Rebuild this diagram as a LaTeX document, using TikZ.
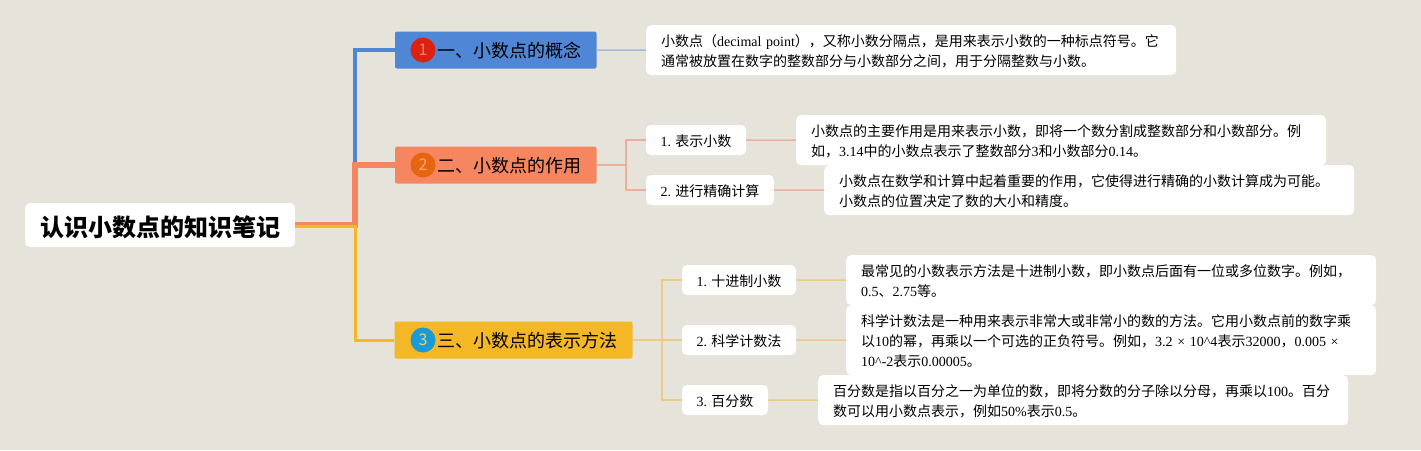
\documentclass[tikz,border=0pt]{standalone}
\usepackage{fontspec}
\setmainfont{Noto Sans CJK SC}
\newfontfamily\latinfont{Liberation Serif}
\newcommand{\lat}[1]{{\latinfont #1}}
\definecolor{paper}{HTML}{E6E3DA}
\definecolor{bluetopic}{HTML}{4F86D6}
\definecolor{orangetopic}{HTML}{F5865F}
\definecolor{yellowtopic}{HTML}{F4B725}
\definecolor{bluethin}{HTML}{A3BBDB}
\definecolor{orangethin}{HTML}{EBB09A}
\definecolor{yellowthin}{HTML}{EBCB85}
\definecolor{reddot}{HTML}{DD2010}
\definecolor{orangedot}{HTML}{E8650F}
\definecolor{bluedot}{HTML}{1C9AD6}
\tikzset{
  rootbox/.style={fill=white,rounded corners=5pt,minimum width=270pt,minimum height=44pt,inner sep=0pt,text height=24pt,text depth=1.8pt,font=\fontsize{24}{28}\selectfont\bfseries},
  topicbox/.style={rounded corners=2pt,minimum height=37pt,inner sep=0pt,text height=17pt,text depth=1.3pt,font=\fontsize{18}{22}\selectfont},
  markerdot/.style={circle,minimum size=25pt,inner sep=0pt,font=\fontsize{16}{18}\selectfont},
  itembox/.style={fill=white,rounded corners=5pt,minimum height=30pt,inner sep=0pt,text height=13.3pt,text depth=0.7pt,font=\fontsize{14}{20}\selectfont},
  notebox/.style={fill=white,rounded corners=5pt,anchor=north west,text width=500pt,inner xsep=15pt,inner ysep=0pt,align=left,text height=14.5pt,font=\fontsize{14}{20}\selectfont},
  thinline/.style={line width=1.5pt,line join=round}
}
\begin{document}
\begin{tikzpicture}[x=1pt,y=-1pt]
\fill[paper] (0,0) rectangle (1421,450);

\coordinate (trunk) at (355,225);
\coordinate (fork2) at (626,165);
\coordinate (fork3) at (662,340);

\node[rootbox] (root) at (160,225) {认识小数点的知识笔记};

\node[topicbox,fill=bluetopic,minimum width=201.5pt] (topic1) at (495.75,50) {\hspace*{27pt}一、小数点的概念};
\node[topicbox,fill=orangetopic,minimum width=201.5pt] (topic2) at (495.75,165) {\hspace*{27pt}二、小数点的作用};
\node[topicbox,fill=yellowtopic,minimum width=238pt] (topic3) at (513.5,340) {\hspace*{27pt}三、小数点的表示方法};

\node[markerdot,fill=reddot,text=reddot!55!white] (mark1) at (423,50) {1};
\node[markerdot,fill=orangedot,text=orangedot!55!white] (mark2) at (423,165) {2};
\node[markerdot,fill=bluedot,text=yellowtopic!70!white] (mark3) at (423,340) {3};

\node[itembox,minimum width=100pt] (item21) at (696,140) {\lat{1.} 表示小数};
\node[itembox,minimum width=128pt] (item22) at (710,190) {\lat{2.} 进行精确计算};
\node[itembox,minimum width=114pt] (item31) at (739,280) {\lat{1.} 十进制小数};
\node[itembox,minimum width=114pt] (item32) at (739,340) {\lat{2.} 科学计数法};
\node[itembox,minimum width=86pt] (item33) at (725,400) {\lat{3.} 百分数};

\node[notebox,minimum height=50pt] (note1) at (646,25) {小数点（\lat{decimal point}），又称小数分隔点，是用来表示小数的一种标点符号。它\\通常被放置在数字的整数部分与小数部分之间，用于分隔整数与小数。};
\node[notebox,minimum height=50pt] (note21) at (796,115) {小数点的主要作用是用来表示小数，即将一个数分割成整数部分和小数部分。例\\如，\lat{3.14}中的小数点表示了整数部分\lat{3}和小数部分\lat{0.14}。};
\node[notebox,minimum height=50pt] (note22) at (824,165) {小数点在数学和计算中起着重要的作用，它使得进行精确的小数计算成为可能。\\小数点的位置决定了数的大小和精度。};
\node[notebox,minimum height=50pt] (note31) at (846,255) {最常见的小数表示方法是十进制小数，即小数点后面有一位或多位数字。例如，\\\lat{0.5}、\lat{2.75}等。};
\node[notebox,minimum height=70pt] (note32) at (846,305) {科学计数法是一种用来表示非常大或非常小的数的方法。它用小数点前的数字乘\\以\lat{10}的幂，再乘以一个可选的正负符号。例如，\lat{3.2 × 10\textasciicircum 4}表示\lat{32000}，\lat{0.005 ×}\\\lat{10\textasciicircum -2}表示\lat{0.00005}。};
\node[notebox,minimum height=50pt] (note33) at (818,375) {百分数是指以百分之一为单位的数，即将分数的分子除以分母，再乘以\lat{100}。百分\\数可以用小数点表示，例如\lat{50\%}表示\lat{0.5}。};

\draw[bluetopic,line width=4pt] (trunk) |- (topic1.west);
\draw[orangetopic,line width=5.5pt] (root.east) -- (trunk) |- (topic2.west);
\draw[yellowtopic,line width=3pt] ([yshift=-1pt]root.east) -- ([yshift=-1pt]trunk) |- (topic3.west);

\draw[bluethin,thinline] (topic1.east) -- (note1.west);
\draw[orangethin,thinline] (topic2.east) -- (fork2) |- (item21.west);
\draw[orangethin,thinline] (fork2) |- (item22.west);
\draw[orangethin,thinline] (item21.east) -- (note21.west);
\draw[orangethin,thinline] (item22.east) -- (note22.west);
\draw[yellowthin,thinline] (topic3.east) -- (item32.west);
\draw[yellowthin,thinline] (fork3) |- (item31.west);
\draw[yellowthin,thinline] (fork3) |- (item33.west);
\draw[yellowthin,thinline] (item31.east) -- (note31.west);
\draw[yellowthin,thinline] (item32.east) -- (note32.west);
\draw[yellowthin,thinline] (item33.east) -- (note33.west);
\end{tikzpicture}
\end{document}
